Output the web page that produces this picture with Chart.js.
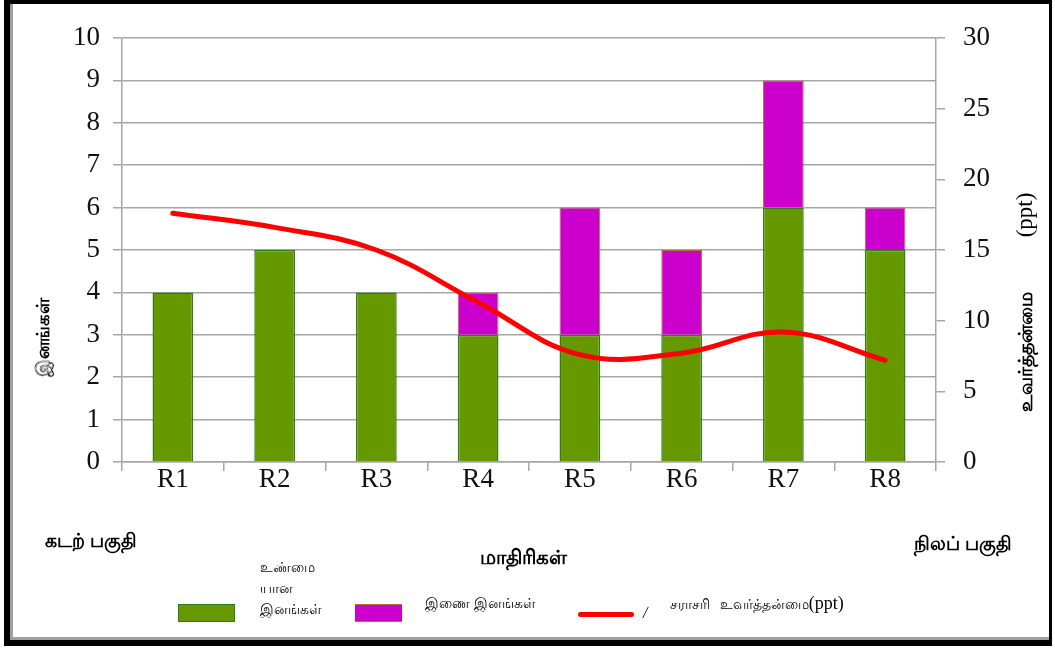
<!DOCTYPE html>
<html>
<head>
<meta charset="utf-8">
<script src="https://cdn.jsdelivr.net/npm/chart.js@4.4.0/dist/chart.umd.min.js"></script>
<style>
  body { margin: 0; background: #fff; }
  #wrap { position: relative; width: 1055px; height: 650px; overflow: hidden; }
  #frame { position: absolute; left: 4px; top: 0; width: 1039px; height: 636px;
    border-style: solid; border-color: #000; border-width: 4px 3px 6px 6px; }
  #frame .inner { position: absolute; left: 0; top: 0; right: 0; bottom: 0;
    border-left: 3px solid #a0a0a0; border-bottom: 3px solid #a0a0a0; }
  canvas { position: absolute; left: 0; top: 0; }
  .lbl { position: absolute; white-space: nowrap; color: #000; font-family: 'Noto Sans', 'DejaVu Sans', sans-serif; }
  .b { font-weight: bold; font-size: 18px; }
  .rot { transform: translate(-50%, -50%) rotate(-90deg); }
  .sw { position: absolute; }
  .lg { font-size: 14px; }
</style>
</head>
<body>
<div id="wrap">
  <canvas id="c" width="1055" height="650"></canvas>
  <div id="frame"><div class="inner"></div></div>

  <div class="lbl b rot" style="left:43px; top:337px;">இனங்கள்</div>
  <div class="lbl b rot" style="left:1025px; top:352px; font-size:19px;">உவர்த்தன்மை</div>
  <div class="lbl rot" style="left:1025px; top:215px; font-family:'Liberation Serif', serif; font-size:23px;">(ppt)</div>

  <div class="lbl b" style="left:45px; top:527px; font-size:19px;">கடற் பகுதி</div>
  <div class="lbl b" style="left:914px; top:530px; font-size:19px;">நிலப் பகுதி</div>
  <div class="lbl b" style="left:480px; top:543px; font-size:20px;">மாதிரிகள்</div>

  <div class="sw" style="left:178px; top:604px; width:55px; height:16px; background:#669900; border:1px solid #2e7d1a;"></div>
  <div class="lbl lg" style="left:260px; top:556px; line-height:21px;">உண்மை<br>யான<br>இனங்கள்</div>
  <div class="sw" style="left:355px; top:604px; width:47px; height:16px; background:#cc00cc; border-top:1px solid #b07040; border-bottom:1px solid #b07040;"></div>
  <div class="lbl lg" style="left:425px; top:593px;">இணை இனங்கள்</div>
  <div class="sw" style="left:578px; top:612px; width:56px; height:5px; background:#ff0000; border-radius:3px;"></div>
  <div class="lbl" style="left:643px; top:604px; font-family:'Liberation Serif', serif; font-style:italic; font-size:16px;">/</div>
  <div class="lbl lg" style="left:670px; top:593px; word-spacing:6px;">சராசரி உவர்த்தன்மை<span style="font-family:'Liberation Serif', serif; font-size:18px;">(ppt)</span></div>
</div>

<script>
const categories = ['R1', 'R2', 'R3', 'R4', 'R5', 'R6', 'R7', 'R8']
const trueSpecies = [4, 5, 4, 3, 3, 3, 6, 5]
const pairSpecies = [0, 0, 0, 1, 3, 2, 3, 1]
const salinity = [17.6, 16.6, 15.0, 11.3, 7.6, 7.7, 9.2, 7.2]

const gridGrey = '#a6a6a6'
const tickFont = { family: "'Liberation Serif', 'Times New Roman', serif", size: 27 }

new Chart(document.getElementById('c').getContext('2d'), {
  data: {
    labels: categories,
    datasets: [
      {
        type: 'line', label: 'சராசரி உவர்த்தன்மை(ppt)', data: salinity, yAxisID: 'y1',
        borderColor: '#ff0000', borderWidth: 5, tension: 0.4, pointRadius: 0,
        borderCapStyle: 'round', fill: false, order: 0
      },
      {
        type: 'bar', label: 'உண்மையான இனங்கள்', data: trueSpecies, yAxisID: 'y',
        backgroundColor: '#669900', borderColor: '#2e7d1a', borderWidth: 1.5,
        barPercentage: 0.4, categoryPercentage: 1, order: 1
      },
      {
        type: 'bar', label: 'இணை இனங்கள்', data: pairSpecies, yAxisID: 'y',
        backgroundColor: '#cc00cc', borderColor: '#b07040', borderWidth: 1,
        barPercentage: 0.4, categoryPercentage: 1, order: 1
      }
    ]
  },
  options: {
    responsive: false,
    animation: false,
    layout: { padding: { top: 38, left: 0, right: 0, bottom: 0 } },
    plugins: { legend: { display: false }, tooltip: { enabled: false } },
    scales: {
      x: {
        stacked: true,
        afterFit: s => { s.height = 188 },
        grid: { offset: true, drawOnChartArea: false, tickLength: 9, color: gridGrey, lineWidth: 1.5 },
        border: { color: gridGrey, width: 1.5 },
        ticks: { color: '#111', font: tickFont, padding: -7 }
      },
      y: {
        stacked: true, position: 'left', min: 0, max: 10,
        afterFit: s => { s.width = 122 },
        grid: { color: gridGrey, lineWidth: 1.5, tickLength: 9 },
        border: { color: gridGrey, width: 1.5 },
        ticks: { stepSize: 1, color: '#111', font: tickFont, padding: 13 }
      },
      y1: {
        position: 'right', min: 0, max: 30,
        afterFit: s => { s.width = 119 },
        grid: { drawOnChartArea: false, color: gridGrey, lineWidth: 1.5, tickLength: 9 },
        border: { color: gridGrey, width: 1.5 },
        ticks: { stepSize: 5, color: '#111', font: tickFont, padding: 18 }
      }
    }
  }
})
</script>
</body>
</html>
